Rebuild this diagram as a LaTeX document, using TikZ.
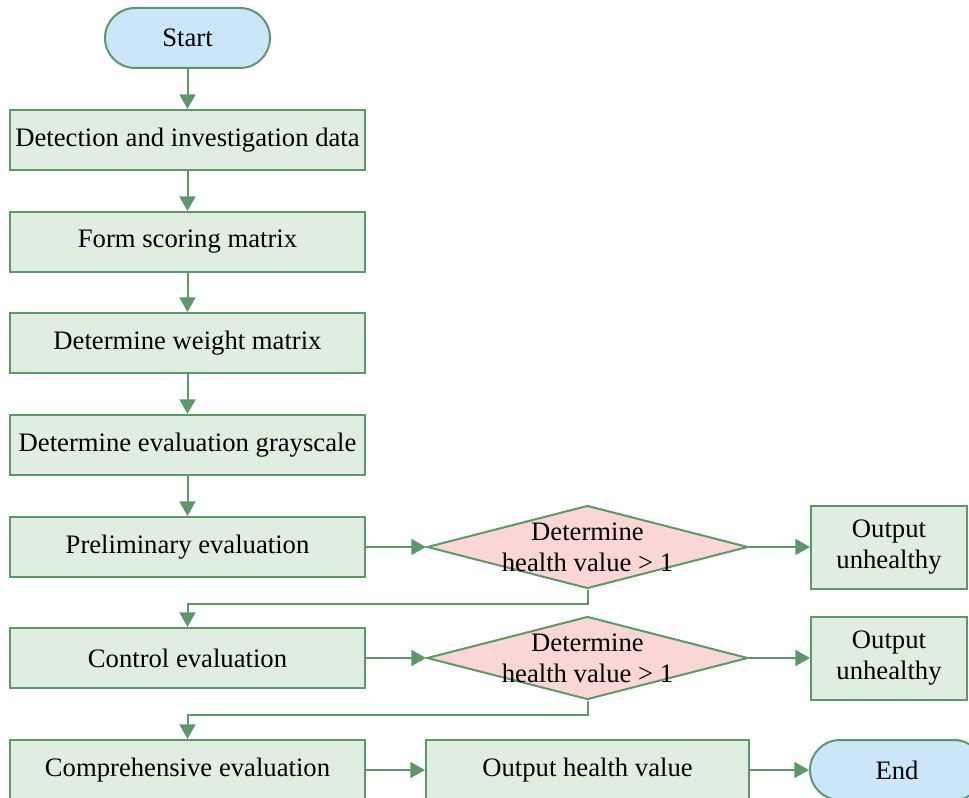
\documentclass[tikz,border=0pt]{standalone}
\usepackage{fontspec}
\setmainfont{Liberation Serif}
\usetikzlibrary{positioning,shapes.geometric,arrows.meta}
\definecolor{edgegreen}{RGB}{91,154,104}
\definecolor{boxgreen}{RGB}{224,238,226}
\definecolor{termblue}{RGB}{204,230,249}
\definecolor{decpink}{RGB}{250,215,212}
\tikzset{
  stepbox/.style={draw=edgegreen, fill=boxgreen, line width=1.5pt, inner sep=0pt,
    minimum width={355*0.75pt}, minimum height={60*0.75pt}, align=center},
  termbox/.style={stepbox, fill=termblue, rounded corners={30*0.75pt}, minimum width={165*0.75pt}},
  checkbox/.style={diamond, draw=edgegreen, fill=decpink, line width=1.5pt, inner sep=0pt,
    minimum width={321*0.75pt}, minimum height={83*0.75pt}},
  flow/.style={draw=edgegreen, line width=1.5pt, -{Triangle[length=11pt,width=12pt]}}
}

\begin{document}
\begin{tikzpicture}[x=0.75pt, y=-0.75pt, font=\fontsize{20}{23.5}\selectfont]
\clip (0,0) rectangle (969,798);

% start and main column of steps
\node[termbox] (start) at (187.5,38) {Start};
\foreach \name/\y/\txt in {detect/140/Detection and investigation data,
    score/242/Form scoring matrix, weight/343/Determine weight matrix,
    gray/445/Determine evaluation grayscale, prelim/547/Preliminary evaluation,
    control/658/Control evaluation, compre/770/Comprehensive evaluation}
  \node[stepbox] (\name) at (187.5,\y) {\txt};

% arrows down the column
\draw[flow] (start) -- (detect);
\foreach \a/\b in {detect/score, score/weight, weight/gray, gray/prelim}
  \draw[flow] (\a) -- (\b);

% the two health checks
\foreach \row/\src/\nxt/\y in {1/prelim/control/547, 2/control/compre/658} {
  \node[checkbox] (check\row) at (587.5,\y) {};
  \node[align=center, inner sep=0pt] (checktxt\row) at (check\row) {Determine\\health value > 1};
  \node[stepbox, minimum width={156*0.75pt}, minimum height={83*0.75pt}] (unhealthy\row) at (889,\y) {Output\\unhealthy};
  \draw[flow] (\src) -- (check\row);
  \draw[flow] (check\row) -- (unhealthy\row);
  %back to the column:
  \draw[flow] (check\row.south) -- ++(0,14) -| (\nxt.north);
}

% last row
\node[stepbox, minimum width={323*0.75pt}] (healthout) at (587.5,770) {Output health value};
\node[termbox, minimum width={174*0.75pt}] (end) at (897,770) {End};
\draw[flow] (compre) -- (healthout);
\draw[flow] (healthout) -- (end);
\end{tikzpicture}
\end{document}
